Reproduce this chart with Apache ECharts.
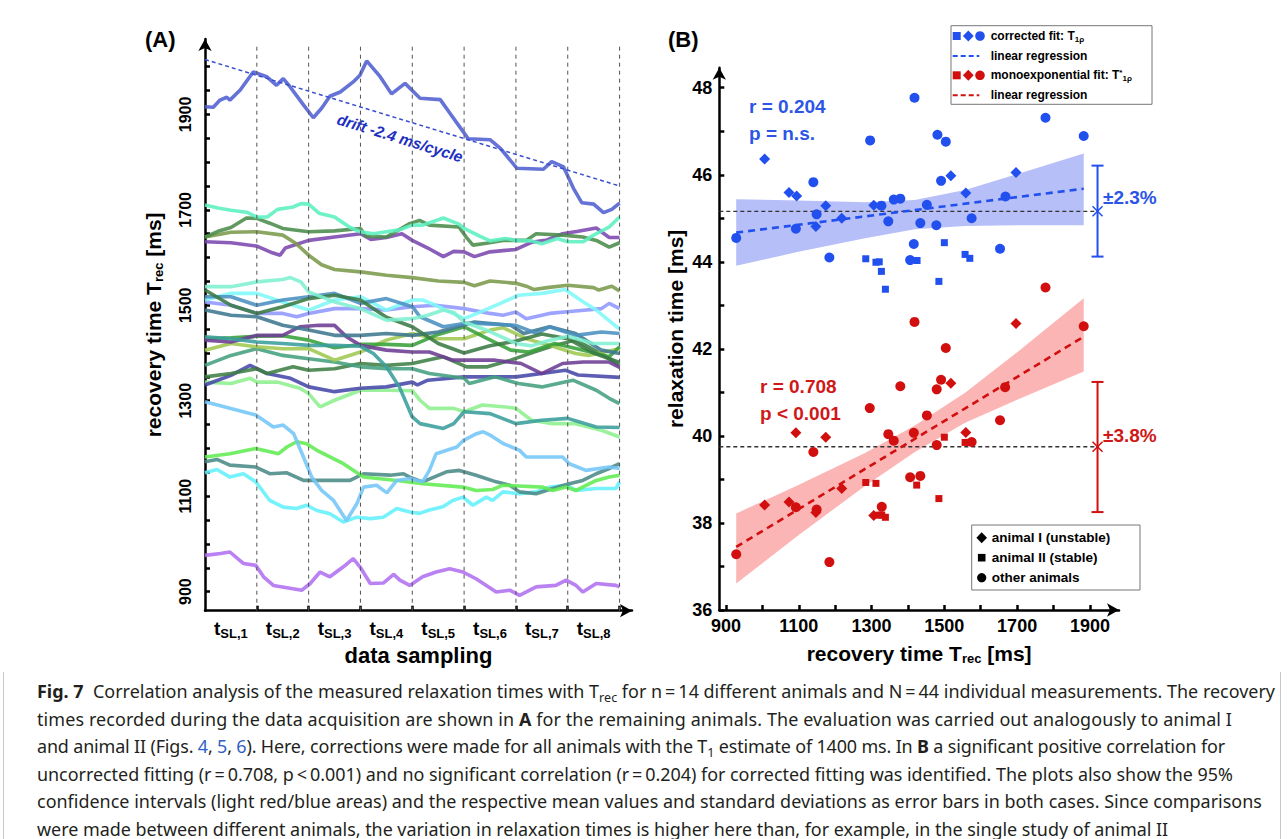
<!DOCTYPE html>
<html>
<head>
<meta charset="utf-8">
<script src="https://cdn.jsdelivr.net/npm/echarts@6/dist/echarts.min.js"></script>
<style>
  html, body { margin: 0; padding: 0; background: #fff; }
  #frame { position: absolute; left: 3px; top: 8px; width: 1276px; height: 860px; border: 1px solid #c8c8c8; border-top-right-radius: 14px; }
  #chart { position: absolute; left: 0; top: 0; width: 1287px; height: 672px; }
  #caption { position: absolute; left: 37px; top: 678px; font-family: 'Noto Sans', Lato, sans-serif; font-size: 16px; line-height: 27.6px; color: #231f20; white-space: nowrap; }
  #caption .ln { display: inline-block; height: 27.6px; }
  #caption .sub { font-size: 0.7em; vertical-align: -4px; line-height: 0; }
  #caption a { color: #2f5fc4; text-decoration: none; }
</style>
</head>
<body>
<div id="frame"></div>
<div id="chart"></div>
<div id="caption">
<span class="ln"><b>Fig. 7</b>&nbsp; Correlation analysis of the measured relaxation times with T<span class="sub">rec</span> for n&#8201;=&#8201;14 different animals and N&#8201;=&#8201;44 individual measurements. The recovery</span><br>
<span class="ln">times recorded during the data acquisition are shown in <b>A</b> for the remaining animals. The evaluation was carried out analogously to animal I</span><br>
<span class="ln">and animal II (Figs. <a>4</a>, <a>5</a>, <a>6</a>). Here, corrections were made for all animals with the T<span class="sub">1</span> estimate of 1400 ms. In <b>B</b> a significant positive correlation for</span><br>
<span class="ln">uncorrected fitting (r&#8201;=&#8201;0.708, p&#8201;&lt;&#8201;0.001) and no significant correlation (r&#8201;=&#8201;0.204) for corrected fitting was identified. The plots also show the 95%</span><br>
<span class="ln">confidence intervals (light red/blue areas) and the respective mean values and standard deviations as error bars in both cases. Since comparisons</span><br>
<span class="ln">were made between different animals, the variation in relaxation times is higher here than, for example, in the single study of animal II</span>
</div>
<script>
// ---------- panel A: recovery time per sampling step ----------
const samplingLabels = ['SL,1', 'SL,2', 'SL,3', 'SL,4', 'SL,5', 'SL,6', 'SL,7', 'SL,8'];
const samplingSteps = [1, 2, 3, 4, 5, 6, 7, 8];
const labelPosA = [0.5, 1.5, 2.5, 3.5, 4.5, 5.5, 6.5, 7.5];
const yTicksA = [900, 950, 1000, 1050, 1100, 1150, 1200, 1250, 1300, 1350, 1400, 1450, 1500, 1550, 1600, 1650, 1700, 1750, 1800, 1850, 1900, 1950, 2000];
const yLabelsA = [900, 1100, 1300, 1500, 1700, 1900];
const driftLine = [[0, 2015], [8, 1750]];

const traceBlue = [[0,1916],[0.16,1915],[0.29,1930],[0.42,1936],[0.48,1930],[0.68,1951],[0.93,1989],[1.19,1979],[1.38,1961],[1.51,1975],[1.64,1958],[1.9,1920],[2.09,1893],[2.25,1913],[2.41,1938],[2.61,1947],[2.86,1968],[2.99,1982],[3.12,2012],[3.38,1979],[3.6,1943],[3.86,1965],[4.15,1934],[4.54,1931],[4.73,1902],[4.96,1867],[5.08,1849],[5.5,1847],[5.7,1829],[6.02,1787],[6.53,1785],[6.69,1801],[6.92,1790],[7.11,1745],[7.27,1715],[7.5,1712],[7.69,1694],[7.85,1701],[8,1714]];
const traceAqua = [[0,1710],[0.25,1704],[0.5,1699],[0.8,1695],[1,1685],[1.2,1685],[1.4,1701],[1.7,1706],[1.85,1713],[2,1712],[2.2,1693],[2.5,1685],[2.8,1663],[3,1654],[3.25,1650],[3.5,1654],[3.75,1658],[4,1668],[4.2,1668],[4.6,1683],[4.9,1670],[5,1661],[5.3,1645],[5.5,1635],[5.8,1640],[6,1636],[6.3,1635],[6.5,1629],[6.8,1640],[7,1633],[7.3,1633],[7.5,1647],[7.8,1664],[8,1685]];
const traceForest = [[0,1643],[0.25,1655],[0.5,1663],[0.8,1683],[1,1682],[1.25,1672],[1.5,1661],[2,1654],[2.5,1656],[3,1661],[3.1,1645],[3.5,1643],[3.95,1671],[4.14,1678],[4.33,1668],[4.9,1664],[5.04,1643],[5.17,1626],[5.43,1630],[5.75,1636],[6.2,1636],[6.39,1650],[6.9,1647],[7.29,1643],[7.55,1636],[7.8,1622],[8,1631]];
const traceOlive = [[0,1643],[0.5,1653],[1,1654],[1.5,1647],[1.75,1630],[2,1605],[2.25,1585],[2.5,1575],[3,1570],[3.5,1563],[4,1558],[4.5,1551],[5,1548],[5.2,1541],[5.5,1551],[6,1546],[6.2,1540],[6.35,1533],[6.6,1537],[7,1542],[7.5,1537],[7.6,1532],[7.85,1540],[8,1530]];
const tracePurple = [[0,1633],[0.5,1631],[1,1624],[1.3,1610],[1.45,1605],[1.55,1620],[2,1636],[2.5,1643],[3,1650],[3.2,1638],[3.5,1642],[3.8,1650],[4,1636],[4.3,1620],[4.6,1602],[4.8,1613],[5,1612],[5.2,1602],[5.5,1612],[5.8,1615],[6,1617],[6.3,1632],[6.6,1637],[6.9,1650],[7.2,1655],[7.55,1662],[7.8,1642],[8,1642]];
const traceAquaLight = [[0,1539],[0.5,1539],[1,1549],[1.5,1554],[1.65,1558],[1.85,1549],[2,1528],[2.5,1507],[3,1493],[3.5,1469],[4,1472],[4.3,1479],[4.6,1490],[4.8,1485],[5,1465],[5.5,1445],[6,1420],[6.3,1415],[6.6,1425],[7,1435],[7.5,1420],[8,1420]];
const traceDarkGreen = [[0,1532],[0.5,1500],[1,1483],[1.5,1497],[2,1514],[2.5,1521],[3,1511],[3.5,1475],[4,1455],[4.5,1420],[5,1400],[5.5,1415],[6,1425],[6.5,1440],[7,1430],[7.5,1400],[8,1380]];
const traceSteel = [[0,1518],[0.5,1518],[1,1500],[1.5,1511],[2,1518],[2.5,1525],[3,1504],[3.5,1514],[4,1497],[4.15,1476],[4.6,1455],[5,1462],[5.25,1462],[6,1458],[6.4,1441],[6.65,1455],[7.15,1437],[7.65,1444],[8,1441]];
const traceCyanLight = [[0,1511],[0.5,1525],[1,1525],[1.5,1507],[2,1490],[2.5,1511],[3,1518],[3.5,1490],[4,1511],[4.2,1511],[4.45,1500],[5,1472],[5.25,1483],[5.7,1504],[6.05,1521],[6.5,1525],[6.95,1533],[7.3,1507],[7.55,1490],[8,1450]];
const tracePeri = [[0,1507],[0.5,1500],[1,1483],[1.5,1483],[1.77,1476],[2,1483],[2.5,1493],[3,1493],[3.5,1490],[4,1497],[4.45,1500],[5,1493],[5.5,1483],[5.75,1479],[6,1486],[6.2,1472],[6.65,1483],[7.15,1488],[7.65,1493],[7.8,1504],[8,1493]];
const traceSlate = [[0,1490],[0.5,1479],[1,1476],[1.5,1458],[2,1448],[2.5,1437],[3,1437],[3.5,1441],[4,1437],[4.5,1444],[5.2,1465],[5.9,1458],[6.15,1441],[6.65,1455],[7.15,1441],[7.65,1406],[8,1399]];
const traceTeal = [[0,1434],[0.5,1430],[1,1423],[1.5,1420],[2,1416],[2.5,1416],[3,1414],[3.25,1399],[3.5,1371],[3.75,1329],[4,1266],[4.15,1252],[4.6,1242],[4.8,1252],[5,1277],[5.5,1273],[6,1252],[6.5,1259],[7,1263],[7.55,1245],[8,1244]];
const tracePurple2 = [[0,1427],[0.5,1423],[1,1437],[1.5,1437],[1.83,1455],[2.2,1458],[2.5,1458],[2.73,1434],[3,1416],[3.5,1406],[4,1402],[4.33,1402],[4.78,1385],[5.2,1385],[5.6,1385],[6.1,1378],[6.5,1357],[6.9,1378],[7.3,1381],[7.8,1381],[8,1370]];
const traceGreen2 = [[0,1430],[0.5,1432],[1,1435],[1.5,1436],[2,1427],[2.5,1411],[3,1418],[3.5,1418],[4,1416],[4.45,1437],[5,1455],[5.45,1430],[5.9,1406],[6.25,1402],[6.75,1420],[7.3,1406],[7.8,1392],[8,1413]];
const traceYellowGreen = [[0,1406],[0.5,1420],[1,1413],[1.5,1409],[2,1409],[2.5,1385],[3,1402],[3.5,1427],[4,1441],[4.45,1430],[5,1430],[5.5,1448],[5.75,1453],[6.2,1430],[6.65,1416],[7.15,1399],[7.4,1395],[8,1409]];
const traceTealGreen = [[0,1374],[0.5,1395],[1,1409],[1.5,1395],[2,1388],[2.5,1381],[3,1371],[3.5,1367],[4,1367],[4.33,1357],[5,1347],[5.1,1336],[5.6,1350],[6.05,1336],[6.5,1329],[7.1,1343],[7.55,1322],[7.8,1305],[8,1294]];
const traceForest2 = [[0,1350],[0.5,1357],[1,1367],[1.2,1357],[1.7,1371],[2,1364],[2.5,1367],[3,1378],[3.5,1374],[4,1378],[4.33,1386],[4.6,1392],[5.05,1371],[5.45,1371],[5.9,1385],[6.35,1402],[6.75,1416],[7.15,1427],[7.4,1413],[7.85,1385],[8,1374]];
const traceNavy = [[0,1333],[0.5,1353],[0.87,1374],[1.2,1357],[1.65,1347],[2,1329],[2.5,1319],[3,1326],[3.5,1329],[4,1339],[4.1,1333],[4.3,1343],[5,1350],[6,1350],[6.5,1357],[6.95,1364],[7.2,1354],[8,1349]];
const traceLightGreen = [[0,1339],[0.5,1336],[0.87,1347],[1,1339],[1.4,1339],[1.83,1326],[2,1315],[2.22,1287],[2.5,1301],[3,1322],[3.5,1322],[4,1321],[4.15,1301],[4.33,1284],[4.8,1284],[5,1277],[5.35,1291],[5.8,1287],[6,1284],[6.3,1259],[6.7,1252],[7.15,1252],[7.65,1238],[8,1224]];
const traceSky = [[0,1298],[0.48,1284],[0.98,1270],[1.32,1245],[1.51,1249],[1.71,1231],[1.9,1182],[2.06,1140],[2.25,1112],[2.48,1091],[2.73,1049],[2.93,1084],[3.06,1119],[3.31,1123],[3.51,1107],[3.7,1133],[3.95,1137],[4.2,1130],[4.33,1154],[4.46,1189],[4.86,1203],[4.99,1217],[5.24,1231],[5.37,1235],[5.5,1228],[5.76,1210],[6.07,1196],[6.2,1182],[6.9,1182],[7.03,1168],[7.35,1154],[7.8,1161],[8,1158]];
const traceGreen = [[0,1182],[0.48,1189],[0.98,1200],[1.42,1189],[1.58,1203],[1.77,1214],[1.96,1210],[2.16,1196],[2.67,1168],[3.06,1140],[3.7,1133],[4.2,1126],[4.98,1119],[5.23,1112],[5.55,1114],[5.75,1123],[6.52,1119],[6.71,1112],[6.97,1119],[7.16,1112],[7.55,1133],[7.8,1140],[8,1144]];
const traceSlateTeal = [[0,1172],[0.23,1177],[0.48,1165],[0.98,1161],[1.25,1147],[1.58,1149],[1.9,1133],[2.41,1133],[2.8,1133],[3.06,1147],[3.57,1144],[3.83,1147],[3.95,1140],[4.2,1130],[4.66,1151],[4.91,1154],[5.23,1144],[5.62,1130],[5.88,1123],[6.07,1109],[6.39,1105],[6.71,1116],[7.03,1126],[7.29,1133],[7.55,1147],[7.8,1158],[8,1168]];
const traceCyan = [[0,1149],[0.23,1156],[0.48,1140],[0.74,1147],[0.98,1130],[1.25,1091],[1.51,1077],[1.77,1074],[1.96,1081],[2.16,1070],[2.41,1063],[2.67,1046],[2.93,1056],[3.19,1053],[3.44,1056],[3.7,1074],[3.95,1067],[4.14,1064],[4.33,1071],[4.59,1078],[4.78,1091],[4.98,1098],[5.17,1081],[5.43,1098],[5.55,1091],[5.75,1109],[6.07,1105],[6.39,1109],[6.65,1119],[6.97,1123],[7.16,1112],[7.55,1116],[7.93,1116],[8,1130]];
const traceViolet = [[0,976],[0.3,980],[0.48,983],[0.74,959],[0.98,955],[1.13,931],[1.32,913],[1.87,903],[2.03,917],[2.22,941],[2.41,931],[2.67,952],[2.86,969],[2.99,952],[3.19,917],[3.44,918],[3.64,936],[3.76,924],[3.95,913],[4.2,931],[4.46,941],[4.72,948],[4.98,941],[5.23,927],[5.62,899],[5.88,903],[6.07,892],[6.39,910],[6.77,913],[6.97,924],[7.16,913],[7.29,899],[7.55,917],[7.93,913],[8,910]];

// ---------- panel B: relaxation time vs recovery time ----------
const xTicksB = [900, 1000, 1100, 1200, 1300, 1400, 1500, 1600, 1700, 1800, 1900];
const xLabelsB = [900, 1100, 1300, 1500, 1700, 1900];
const yTicksB = [36, 37, 38, 39, 40, 41, 42, 43, 44, 45, 46, 47, 48];
const yLabelsB = [36, 38, 40, 42, 44, 46, 48];

const blueCircles = [[928,44.55],[1418,47.77],[1296,46.79],[1140,45.83],[1149,45.09],[1092,44.76],[1184,44.10],[1346,44.93],[1327,45.29],[1361,45.43],[1379,45.45],[1452,45.31],[1434,44.89],[1478,44.84],[1416,44.41],[1406,44.04],[1481,46.92],[1504,46.76],[1491,45.86],[1575,45.0],[1668,45.5],[1653,44.30],[1778,47.31],[1883,46.89]];
const blueDiamonds = [[1006,46.36],[1073,45.59],[1094,45.51],[1174,45.29],[1147,44.81],[1218,45.0],[1306,45.30],[1518,45.98],[1559,45.58],[1697,46.05]];
const blueSquares = [[1284,44.07],[1312,43.99],[1321,44.0],[1327,43.78],[1338,43.37],[1425,44.03],[1500,44.44],[1485,43.55],[1557,44.17],[1570,44.08]];
const redCircles = [[928,37.28],[1184,37.10],[1418,42.62],[1504,42.02],[1883,42.52],[1778,43.41],[1379,41.14],[1491,41.29],[1479,41.07],[1667,41.12],[1295,40.64],[1452,40.47],[1653,40.36],[1346,40.04],[1361,39.89],[1416,40.07],[1479,39.79],[1575,39.86],[1140,39.63],[1406,39.05],[1434,39.08],[1092,38.36],[1149,38.31],[1328,38.37]];
const redDiamonds = [[1006,38.41],[1073,38.48],[1092,40.07],[1174,39.97],[1147,38.24],[1218,38.79],[1306,38.17],[1518,41.21],[1559,40.08],[1697,42.58]];
const redSquares = [[1284,38.93],[1312,38.91],[1321,38.18],[1328,38.18],[1338,38.13],[1424,38.87],[1500,39.97],[1485,38.56],[1557,39.85],[1570,39.85]];

const blueFit = [[928, 44.67], [1883, 45.68]];
const redFit = [[928, 37.45], [1883, 42.28]];
const bandX = [928, 1099, 1282, 1419, 1557, 1694, 1883];
const blueBandLow = [43.91, 44.23, 44.54, 44.75, 44.82, 44.84, 44.84];
const blueBandHigh = [45.44, 45.41, 45.37, 45.42, 45.65, 46.0, 46.49];
const redBandLow = [36.61, 37.72, 38.85, 39.63, 40.30, 40.81, 41.48];
const redBandHigh = [38.22, 38.87, 39.61, 40.24, 40.99, 41.88, 43.16];
const blueMean = [[881.5, 45.16], [1921, 45.16]];
const redMean = [[881.5, 39.75], [1921, 39.75]];
const blueErr = [[1921, 44.12, 46.21, 45.16]];
const redErr = [[1921, 38.25, 41.24, 39.75]];

// caption line ends (page x)
const captionEnds = [1275, 1232, 1225, 1233, 1262, 1168];

const FONT = "'Liberation Sans', Arial, sans-serif";
const BLUE = '#2150ee';
const RED = '#d10f0f';
const BLUE_TXT = '#2d55e6';
const RED_TXT = '#d01818';

const chart = echarts.init(document.getElementById('chart'), null, { renderer: 'svg' });

function traceLine(data, color) {
  return {
    type: 'line', xAxisIndex: 0, yAxisIndex: 0, data: data, showSymbol: false,
    lineStyle: { color: color, width: 3.6, opacity: 0.88 }, z: 3, silent: true
  };
}

function band(lo, hi, color) {
  return {
    type: 'custom', xAxisIndex: 1, yAxisIndex: 1, silent: true, z: 1,
    data: [[bandX[0], lo[0]]],
    renderItem: function (params, api) {
      const pts = [];
      bandX.forEach(function (x, i) { pts.push(api.coord([x, hi[i]])); });
      for (let i = bandX.length - 1; i >= 0; i--) pts.push(api.coord([bandX[i], lo[i]]));
      return { type: 'polygon', shape: { points: pts }, style: { fill: color } };
    }
  };
}

function errorBar(data, color) {
  return {
    type: 'custom', xAxisIndex: 1, yAxisIndex: 1, silent: true, z: 5, data: data,
    renderItem: function (params, api) {
      const lo = api.coord([api.value(0), api.value(1)]);
      const hi = api.coord([api.value(0), api.value(2)]);
      const c = api.coord([api.value(0), api.value(3)]);
      const st = { stroke: color, lineWidth: 2 };
      const w = 6, k = 5;
      return { type: 'group', children: [
        { type: 'line', shape: { x1: lo[0], y1: lo[1], x2: hi[0], y2: hi[1] }, style: st },
        { type: 'line', shape: { x1: lo[0] - w, y1: lo[1], x2: lo[0] + w, y2: lo[1] }, style: st },
        { type: 'line', shape: { x1: hi[0] - w, y1: hi[1], x2: hi[0] + w, y2: hi[1] }, style: st },
        { type: 'line', shape: { x1: c[0] - k, y1: c[1] - k, x2: c[0] + k, y2: c[1] + k }, style: { stroke: color, lineWidth: 1.5 } },
        { type: 'line', shape: { x1: c[0] - k, y1: c[1] + k, x2: c[0] + k, y2: c[1] - k }, style: { stroke: color, lineWidth: 1.5 } }
      ] };
    }
  };
}

function scatter(data, symbol, size, color) {
  return { type: 'scatter', xAxisIndex: 1, yAxisIndex: 1, data: data, symbol: symbol, symbolSize: size, itemStyle: { color: color, opacity: 1 }, z: 6 };
}

function dashLine(data, color, width, dash, xi) {
  return { type: 'line', xAxisIndex: xi, yAxisIndex: xi, data: data, showSymbol: false, silent: true, z: 4,
    lineStyle: { color: color, width: width, type: dash } };
}

const plain = function (v) { return String(v); };
const axisLineStyle = { show: true, symbol: ['none', 'arrow'], symbolSize: [10, 12], lineStyle: { color: '#000', width: 2.5 } };
const tickStyle = { show: true, inside: true, length: 5, lineStyle: { color: '#000', width: 2.5 } };
const labelStyle = { color: '#000', fontFamily: FONT, fontWeight: 'bold', formatter: plain };
const nameStyle = { color: '#000', fontFamily: FONT, fontWeight: 'bold', fontSize: 21 };

function legendMarkers(cx, cy, color) {
  return [
    { type: 'rect', shape: { x: cx - 4, y: cy - 4, width: 8, height: 8 }, style: { fill: color } },
    { type: 'polygon', shape: { points: [[cx + 11.6, cy - 5.5], [cx + 17, cy], [cx + 11.6, cy + 5.5], [cx + 6.2, cy]] }, style: { fill: color } },
    { type: 'circle', shape: { cx: cx + 23.3, cy: cy, r: 4.8 }, style: { fill: color } }
  ];
}

function txt(x, y, text, size, color) {
  return { type: 'text', x: x, y: y, style: {
    text: text, fill: color, font: 'bold ' + size + 'px ' + FONT,
    align: 'left', verticalAlign: 'middle', textAlign: 'left', textVerticalAlign: 'middle'
  } };
}

const subRich = function (size) {
  return {
    n: { fontSize: size, fontWeight: 'bold', fontFamily: FONT, fill: '#000' },
    s: { fontSize: Math.round(size * 0.64), fontWeight: 'bold', fontFamily: FONT, padding: [Math.round(size * 0.5), 0, 0, 0] },
    p: { fontSize: Math.round(size * 0.64), fontWeight: 'bold', fontFamily: FONT, padding: [0, 0, Math.round(size * 0.5), 0] }
  };
};

const graphics = [
  txt(145, 39, '(A)', 22, '#000'),
  txt(668, 39, '(B)', 22, '#000'),
  { type: 'text', x: 400, y: 138, rotation: -0.30, style: { text: 'drift -2.4 ms/cycle', fill: '#1d30c0', font: 'italic bold 15.5px ' + FONT, align: 'center', verticalAlign: 'middle', textAlign: 'center', textVerticalAlign: 'middle' } },
  txt(749, 106, 'r = 0.204', 19, BLUE_TXT),
  txt(749, 133, 'p = n.s.', 19, BLUE_TXT),
  txt(760, 386, 'r = 0.708', 19, RED_TXT),
  txt(760, 413, 'p < 0.001', 19, RED_TXT),
  txt(1103, 197, '\u00b12.3%', 19, BLUE_TXT),
  txt(1103, 435, '\u00b13.8%', 19, RED_TXT),
  // legend 1
  { type: 'rect', shape: { x: 951, y: 25.7, width: 201, height: 78.6 }, style: { fill: '#fff', stroke: '#777', lineWidth: 1 } }
].concat(legendMarkers(956.7, 36, BLUE)).concat([
  { type: 'text', x: 990.7, y: 36, style: { text: '{n|corrected fit: T}{s|1\u03c1}', rich: subRich(12), verticalAlign: 'middle', textVerticalAlign: 'middle' } },
  { type: 'line', shape: { x1: 952.7, y1: 56, x2: 979.3, y2: 56 }, style: { stroke: BLUE, lineWidth: 2, lineDash: [5, 3] } },
  txt(990.7, 56, 'linear regression', 12, '#000')
]).concat(legendMarkers(956.7, 75.3, RED)).concat([
  { type: 'text', x: 990.7, y: 75.3, style: { text: '{n|monoexponential fit: T}{p|*}{s|1\u03c1}', rich: subRich(12), verticalAlign: 'middle', textVerticalAlign: 'middle' } },
  { type: 'line', shape: { x1: 952.7, y1: 95.3, x2: 979.3, y2: 95.3 }, style: { stroke: RED, lineWidth: 2, lineDash: [5, 3] } },
  txt(990.7, 95.3, 'linear regression', 12, '#000'),
  // legend 2
  { type: 'rect', shape: { x: 971.7, y: 525, width: 168.3, height: 65 }, style: { fill: '#fff', stroke: '#777', lineWidth: 1 } },
  { type: 'polygon', shape: { points: [[981.7, 532.2], [987, 537.7], [981.7, 543.2], [976.4, 537.7]] }, style: { fill: '#000' } },
  { type: 'rect', shape: { x: 977.9, y: 553.9, width: 7.6, height: 7.6 }, style: { fill: '#000' } },
  { type: 'circle', shape: { cx: 981.7, cy: 577.7, r: 4.6 }, style: { fill: '#000' } },
  txt(991.7, 537.7, 'animal I (unstable)', 13.5, '#000'),
  txt(991.7, 557.7, 'animal II (stable)', 13.5, '#000'),
  txt(991.7, 577.7, 'other animals', 13.5, '#000')
]);

const option = {
  animation: false,
  backgroundColor: '#fff',
  grid: [
    { left: 205, top: 39, width: 427, height: 571.7 },
    { left: 719.3, top: 67.7, width: 399.7, height: 542.3 }
  ],
  xAxis: [
    {
      type: 'value', gridIndex: 0, min: 0, max: 8.24,
      axisLine: axisLineStyle,
      axisTick: Object.assign({ customValues: samplingSteps }, tickStyle),
      splitLine: { show: false },
      axisLabel: {
        customValues: labelPosA, margin: 7,
        formatter: function (v) { return '{t|t}{s|' + samplingLabels[Math.floor(v)] + '}'; },
        rich: {
          t: { fontSize: 19, fontWeight: 'bold', fontFamily: FONT, color: '#000' },
          s: { fontSize: 13, fontWeight: 'bold', fontFamily: FONT, color: '#000', padding: [9, 0, 0, 0] }
        }
      },
      name: 'data sampling', nameLocation: 'middle', nameGap: 34,
      nameTextStyle: Object.assign({}, nameStyle, { fontSize: 22 })
    },
    {
      type: 'value', gridIndex: 1, min: 881.5, max: 1980,
      axisLine: axisLineStyle,
      axisTick: Object.assign({ customValues: xTicksB }, tickStyle),
      splitLine: { show: false },
      axisLabel: Object.assign({ customValues: xLabelsB, fontSize: 18, margin: 7 }, labelStyle),
      name: '{n|recovery time T}{s|rec}{n| [ms]}', nameLocation: 'middle', nameGap: 31,
      nameTextStyle: Object.assign({ rich: subRich(21) }, nameStyle)
    }
  ],
  yAxis: [
    {
      type: 'value', gridIndex: 0, min: 860, max: 2058,
      axisLine: axisLineStyle,
      axisTick: Object.assign({ customValues: yTicksA }, tickStyle),
      splitLine: { show: false },
      axisLabel: Object.assign({ customValues: yLabelsA, fontSize: 16, rotate: 90, margin: 12 }, labelStyle),
      name: '{n|recovery time T}{s|rec}{n| [ms]}', nameLocation: 'middle', nameGap: 40,
      nameTextStyle: Object.assign({ rich: subRich(21) }, nameStyle)
    },
    {
      type: 'value', gridIndex: 1, min: 36, max: 48.46,
      axisLine: axisLineStyle,
      axisTick: Object.assign({ customValues: yTicksB }, tickStyle),
      splitLine: { show: false },
      axisLabel: Object.assign({ customValues: yLabelsB, fontSize: 18, margin: 7 }, labelStyle),
      name: 'relaxation time [ms]', nameLocation: 'middle', nameGap: 33,
      nameTextStyle: Object.assign({ padding: [0, 0, 0, 20] }, nameStyle)
    }
  ],
  graphic: { elements: graphics },
  series: [].concat(
    samplingSteps.map(function (s) {
      return dashLine([[s, 860], [s, 2045]], '#555', 1, [4, 4], 0);
    }),
    [
      traceLine(traceViolet, '#b070f0'),
      traceLine(traceCyan, '#62f0fa'),
      traceLine(traceSlateTeal, '#4a8a86'),
      traceLine(traceGreen, '#62ec52'),
      traceLine(traceSky, '#74c6f8'),
      traceLine(traceLightGreen, '#8ef08e'),
      traceLine(traceNavy, '#4448a8'),
      traceLine(traceForest2, '#3f7f45'),
      traceLine(traceTealGreen, '#44a080'),
      traceLine(traceYellowGreen, '#a0c850'),
      traceLine(traceGreen2, '#38a038'),
      traceLine(tracePurple2, '#6c3c94'),
      traceLine(traceTeal, '#3a9e9c'),
      traceLine(traceSlate, '#3d7890'),
      traceLine(tracePeri, '#8f97ff'),
      traceLine(traceCyanLight, '#7ff8f8'),
      traceLine(traceSteel, '#4a90c0'),
      traceLine(traceDarkGreen, '#3a7a44'),
      traceLine(traceAquaLight, '#80f0d0'),
      traceLine(tracePurple, '#7b48b0'),
      traceLine(traceOlive, '#7a9a4a'),
      traceLine(traceForest, '#4a8c4a'),
      traceLine(traceAqua, '#5cf0c0'),
      traceLine(traceBlue, '#5060d0'),
      dashLine(driftLine, '#3a4fd0', 1.5, [4, 3], 0),
      band(blueBandLow, blueBandHigh, '#b6bff8'),
      band(redBandLow, redBandHigh, '#fcb5b5'),
      dashLine(blueMean, '#333', 1.4, [4, 3], 1),
      dashLine(redMean, '#333', 1.4, [4, 3], 1),
      dashLine(blueFit, BLUE, 2.6, [7, 5], 1),
      dashLine(redFit, RED, 2.6, [7, 5], 1),
      scatter(blueCircles, 'circle', 10, BLUE),
      scatter(blueDiamonds, 'diamond', 11, BLUE),
      scatter(blueSquares, 'rect', 7, BLUE),
      scatter(redCircles, 'circle', 10, RED),
      scatter(redDiamonds, 'diamond', 11, RED),
      scatter(redSquares, 'rect', 7, RED),
      errorBar(blueErr, BLUE),
      errorBar(redErr, RED)
    ]
  )
};

chart.setOption(option);
window.addEventListener('resize', function () { chart.resize(); });

// fit the caption: size the font to the first line, then letter-space each line to its end
(function fitCaption() {
  const cap = document.getElementById('caption');
  const lines = cap.querySelectorAll('.ln');
  const left = 37;
  const w0 = lines[0].getBoundingClientRect().width;
  const fs = 16 * (captionEnds[0] - left) / w0;
  cap.style.fontSize = fs.toFixed(2) + 'px';
  lines.forEach(function (ln, i) {
    const w = ln.getBoundingClientRect().width;
    const n = ln.textContent.length;
    const ls = ((captionEnds[i] - left) - w) / n;
    ln.style.letterSpacing = ls.toFixed(3) + 'px';
  });
})();
</script>
</body>
</html>
